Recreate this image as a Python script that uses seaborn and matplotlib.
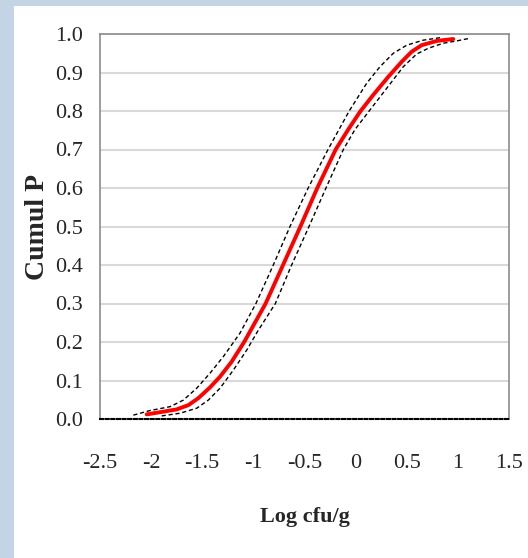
import numpy as np
import pandas as pd
import matplotlib
matplotlib.use("Agg")
import matplotlib.pyplot as plt
import seaborn as sns

# curva central (roja) y bandas de confianza (punteadas)
x_media = [-2.043, -1.881, -1.75, -1.636, -1.539, -1.424, -1.326, -1.212, -1.09,
           -0.88, -0.71, -0.54, -0.375, -0.195, -0.072, 0.043, 0.173, 0.32,
           0.451, 0.548, 0.646, 0.793, 0.955]
y_media = [0.012, 0.019, 0.025, 0.036, 0.054, 0.082, 0.11, 0.149, 0.20,
           0.30, 0.40, 0.50, 0.60, 0.70, 0.752, 0.798, 0.842, 0.889,
           0.928, 0.954, 0.971, 0.982, 0.987]

x_sup = [-2.174, -2.011, -1.815, -1.685, -1.554, -1.424, -1.294, -1.131,
         -0.975, -0.805, -0.642, -0.464, -0.27, -0.063, 0.108,
         0.238, 0.369, 0.50, 0.662, 0.842]
y_sup = [0.010, 0.022, 0.032, 0.049, 0.080, 0.119, 0.162, 0.223,
         0.30, 0.40, 0.50, 0.60, 0.70, 0.80, 0.872,
         0.915, 0.950, 0.971, 0.984, 0.991]

x_inf = [-1.897, -1.718, -1.554, -1.441, -1.326, -1.196, -1.065, -0.96,
         -0.785, -0.626, -0.456, -0.29, -0.12, -0.006, 0.141, 0.304,
         0.466, 0.597, 0.711, 0.857, 0.988, 1.119]
y_inf = [0.008, 0.015, 0.028, 0.049, 0.080, 0.127, 0.179, 0.227,
         0.30, 0.40, 0.50, 0.60, 0.70, 0.752, 0.803, 0.859,
         0.915, 0.948, 0.963, 0.976, 0.982, 0.989]

x_ticks = [-2.5, -2, -1.5, -1, -0.5, 0, 0.5, 1, 1.5]
x_ticklabels = ["-2.5", "-2", "-1.5", "-1", "-0.5", "0", "0.5", "1", "1.5"]
y_ticks = [0.0, 0.1, 0.2, 0.3, 0.4, 0.5, 0.6, 0.7, 0.8, 0.9, 1.0]

sns.set_style("white")
plt.rcParams['font.family'] = ['Liberation Serif', 'DejaVu Serif']

fig = plt.figure(figsize=(5.28, 5.58), dpi=100)
fig.patch.set_facecolor("#c3d5e5")
# panel blanco
fig.patches.append(plt.Rectangle((14 / 528, 0), 1, 1 - 6 / 558, transform=fig.transFigure,
                                 facecolor="white", edgecolor="none", zorder=-10))

ax = fig.add_axes([100 / 528, 1 - 419 / 558, 409 / 528, 385 / 558])
ax.set_facecolor("white")

df_sup = pd.DataFrame({"x": x_sup, "y": y_sup})
df_inf = pd.DataFrame({"x": x_inf, "y": y_inf})
df_media = pd.DataFrame({"x": x_media, "y": y_media})

sns.lineplot(data=df_sup, x="x", y="y", sort=False, estimator=None, ax=ax,
             color="black", linewidth=1.0, linestyle=(0, (3, 2)))
sns.lineplot(data=df_inf, x="x", y="y", sort=False, estimator=None, ax=ax,
             color="black", linewidth=1.0, linestyle=(0, (3, 2)))
sns.lineplot(data=df_media, x="x", y="y", sort=False, estimator=None, ax=ax,
             color="#ff0000", linewidth=2.8, solid_capstyle="round",
             solid_joinstyle="round")

ax.set_xlim(-2.5, 1.5)
ax.set_ylim(0, 1.0)
ax.set_xticks(x_ticks)
ax.set_xticklabels(x_ticklabels)
ax.set_yticks(y_ticks)
ax.set_yticklabels([f"{v:.1f}" for v in y_ticks])
ax.tick_params(axis="both", length=0, labelsize=16)
ax.tick_params(axis="x", pad=25)
ax.tick_params(axis="y", pad=12)

ax.grid(axis="y", color="#d9d9d9", linewidth=1.5)
ax.grid(axis="x", visible=False)
ax.set_axisbelow(True)

for lado in ["top", "left", "right"]:
    ax.spines[lado].set_color("#8c8c8c")
    ax.spines[lado].set_linewidth(1.2)
ax.spines["bottom"].set_color("black")
ax.spines["bottom"].set_linewidth(1.5)
ax.spines["bottom"].set_linestyle((0, (1.5, 1.2)))
ax.spines["bottom"].set_zorder(5)

ax.set_xlabel("Log cfu/g", fontsize=16, fontweight="bold")
ax.set_ylabel("Cumul P", fontsize=20, fontweight="bold")
ax.xaxis.set_label_coords(0.50, -0.229)
ax.yaxis.set_label_coords(-0.122, 0.50)

fig.savefig("out.png", dpi=100, facecolor=fig.get_facecolor())
